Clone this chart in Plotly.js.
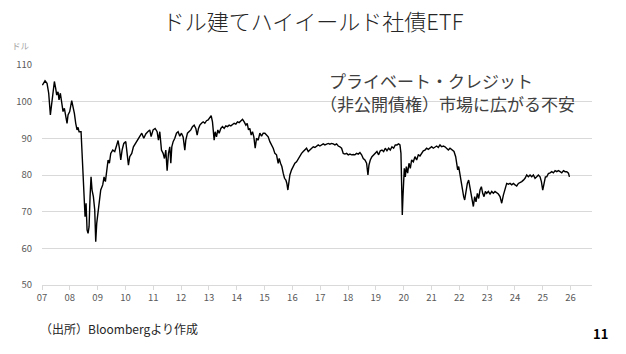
<!DOCTYPE html>
<html>
<head>
<meta charset="utf-8">
<script src="https://cdn.plot.ly/plotly-3.0.1.min.js"></script>
<style>
html,body{margin:0;padding:0;background:#fff;}
#chart{width:626px;height:354px;}
</style>
</head>
<body>
<div id="chart"></div>
<script>
// Time in decimal years (position) and ETF price (USD)
const timeYears = [
2007.283,2007.379,2007.451,2007.511,2007.571,2007.619,2007.667,2007.715,2007.762,2007.798,
2007.846,2007.882,2007.930,2007.978,2008.026,2008.074,2008.134,2008.170,2008.206,2008.266,
2008.338,2008.386,2008.434,2008.482,2008.530,2008.566,2008.602,2008.674,2008.710,2008.746,
2008.782,2008.818,2008.854,2008.890,2008.926,2008.962,2008.998,2009.033,2009.069,2009.117,
2009.165,2009.201,2009.237,2009.285,2009.333,2009.381,2009.453,2009.501,2009.549,2009.597,
2009.645,2009.693,2009.741,2009.813,2009.885,2009.957,2010.005,2010.053,2010.101,2010.149,
2010.209,2010.281,2010.329,2010.377,2010.424,2010.496,2010.556,2010.628,2010.712,2010.784,
2010.856,2010.928,2011.000,2011.072,2011.144,2011.192,2011.264,2011.336,2011.408,2011.456,
2011.504,2011.564,2011.624,2011.672,2011.720,2011.768,2011.816,2011.864,2011.900,2011.936,
2011.984,2012.044,2012.104,2012.163,2012.223,2012.283,2012.343,2012.403,2012.439,2012.499,
2012.559,2012.619,2012.679,2012.739,2012.799,2012.847,2012.895,2012.943,2013.003,2013.063,
2013.123,2013.183,2013.243,2013.303,2013.351,2013.398,2013.458,2013.494,2013.542,2013.590,
2013.638,2013.698,2013.758,2013.818,2013.878,2013.938,2013.998,2014.058,2014.118,2014.178,
2014.238,2014.298,2014.358,2014.418,2014.478,2014.538,2014.598,2014.646,2014.693,2014.741,
2014.789,2014.837,2014.885,2014.933,2014.981,2015.041,2015.101,2015.161,2015.221,2015.281,
2015.341,2015.401,2015.461,2015.521,2015.581,2015.641,2015.700,2015.760,2015.796,2015.844,
2015.892,2015.940,2015.988,2016.036,2016.072,2016.108,2016.144,2016.180,2016.240,2016.300,
2016.360,2016.420,2016.480,2016.540,2016.600,2016.660,2016.720,2016.780,2016.840,2016.900,
2016.960,2017.020,2017.080,2017.140,2017.200,2017.259,2017.319,2017.379,2017.439,2017.499,
2017.559,2017.619,2017.679,2017.739,2017.799,2017.859,2017.919,2017.979,2018.039,2018.099,
2018.159,2018.219,2018.279,2018.339,2018.399,2018.458,2018.518,2018.578,2018.638,2018.698,
2018.758,2018.818,2018.878,2018.938,2018.986,2019.022,2019.070,2019.130,2019.190,2019.250,
2019.310,2019.370,2019.430,2019.490,2019.550,2019.610,2019.670,2019.729,2019.789,2019.849,
2019.909,2019.969,2020.029,2020.089,2020.137,2020.173,2020.197,2020.221,2020.245,2020.269,
2020.293,2020.329,2020.365,2020.413,2020.461,2020.509,2020.557,2020.617,2020.677,2020.737,
2020.797,2020.857,2020.917,2020.976,2021.036,2021.096,2021.156,2021.216,2021.276,2021.336,
2021.396,2021.456,2021.516,2021.576,2021.636,2021.696,2021.756,2021.816,2021.876,2021.936,
2021.996,2022.080,2022.140,2022.176,2022.212,2022.248,2022.295,2022.343,2022.391,2022.427,
2022.463,2022.511,2022.559,2022.607,2022.655,2022.703,2022.751,2022.775,2022.823,2022.871,
2022.919,2022.967,2023.015,2023.063,2023.111,2023.159,2023.207,2023.255,2023.315,2023.375,
2023.435,2023.494,2023.554,2023.614,2023.674,2023.734,2023.794,2023.854,2023.914,2023.974,
2024.034,2024.094,2024.154,2024.214,2024.274,2024.334,2024.394,2024.454,2024.514,2024.574,
2024.633,2024.693,2024.753,2024.813,2024.873,2024.933,2024.993,2025.053,2025.113,2025.173,
2025.221,2025.269,2025.317,2025.365,2025.413,2025.473,2025.533,2025.593,2025.653,2025.713,
2025.773,2025.833,2025.893,2025.953,2026.013,2026.073,2026.133,2026.193,2026.229
];
const priceUSD = [
104.5,105.7,105.0,102.3,96.4,99.1,101.4,105.5,103.6,101.8,
102.7,100.5,102.3,99.6,97.3,98.2,95.5,94.1,96.4,97.3,
100.3,98.6,96.8,94.1,92.3,93.0,91.8,91.8,86.8,81.4,
73.2,68.6,72.3,65.0,64.1,65.9,74.1,79.5,75.9,74.1,
70.5,61.8,66.8,70.5,74.1,75.9,77.3,79.5,78.2,81.4,
84.1,83.2,85.9,86.8,86.4,88.2,89.4,87.3,84.1,86.8,
88.6,89.1,85.0,82.7,85.0,85.9,87.7,88.5,89.6,90.6,
91.4,90.0,91.2,91.8,92.3,90.5,92.3,92.7,91.8,89.5,
91.8,86.8,85.9,84.5,86.8,81.2,85.9,87.7,83.2,87.7,
89.1,90.0,91.4,91.8,90.6,91.4,90.4,86.8,89.5,91.4,
91.8,92.3,93.2,93.6,92.7,90.9,92.7,93.6,94.1,94.5,
94.1,94.8,95.0,95.5,96.2,94.5,89.5,91.8,90.4,92.3,
91.4,92.7,93.2,92.7,93.4,93.2,93.6,93.4,93.8,94.1,
93.9,94.5,94.3,94.8,95.2,94.5,93.6,94.1,92.3,92.7,
90.9,91.8,90.4,87.3,90.0,89.5,91.4,90.6,91.4,91.4,
90.9,90.4,89.1,88.2,87.3,85.9,85.5,83.2,84.5,83.2,
82.3,80.5,79.1,78.6,77.7,75.9,78.2,80.0,81.4,82.3,
83.2,83.6,84.5,85.0,85.9,86.4,86.8,87.3,86.4,86.8,
87.3,87.7,87.5,87.9,88.2,87.9,88.2,88.5,88.2,88.5,
88.6,88.4,88.6,88.5,88.2,88.5,87.9,87.7,87.3,85.9,
85.7,85.9,85.5,85.7,85.5,85.6,85.5,85.9,85.7,86.1,
85.5,84.5,84.1,83.2,80.0,82.7,84.1,85.0,85.5,85.9,
86.4,85.5,86.6,86.8,86.4,87.3,86.6,87.3,86.8,87.7,
87.3,88.2,88.2,88.5,88.2,85.9,78.6,69.1,74.1,78.6,
81.8,79.5,82.3,80.5,83.2,81.8,84.1,83.6,85.0,84.1,
85.5,85.2,85.9,86.6,86.8,87.3,87.0,87.5,87.7,87.3,
87.7,87.9,87.5,88.2,87.7,87.9,87.7,87.3,86.8,87.3,
86.8,86.4,85.0,83.2,81.4,82.3,80.0,78.6,76.4,74.1,
73.2,75.9,77.7,78.6,76.8,75.0,72.7,71.4,74.1,72.7,
75.0,73.6,75.9,76.8,75.0,74.1,75.5,75.0,75.5,74.8,
75.5,75.0,75.5,75.2,74.8,74.1,72.3,74.5,76.4,77.7,
77.5,77.7,77.3,77.7,77.3,77.0,77.7,77.9,78.2,78.6,
79.1,80.0,79.5,80.0,79.5,80.0,79.1,79.5,80.0,79.5,
78.2,75.9,78.2,79.5,79.5,80.4,80.6,80.9,80.6,81.2,
80.9,81.2,80.9,80.6,81.2,80.9,80.9,80.5,79.5
];
const xTickLabels = ['07','08','09','10','11','12','13','14','15','16','17','18','19','20','21','22','23','24','25','26'];
const yTickValues = [50,60,70,80,90,100,110];

const firstLabelPos = 2007.27; // axis label "07" sits at the series start
const xTickVals = xTickLabels.map((_, i) => firstLabelPos + i);

const jp = '"Noto Sans CJK JP", "Noto Sans", sans-serif';

const trace = {
  x: timeYears, y: priceUSD, type: 'scatter', mode: 'lines',
  line: {color: '#000000', width: 1.4}, hoverinfo: 'skip'
};

const layout = {
  width: 626, height: 354,
  margin: {l: 42, r: 34, t: 65, b: 69},
  paper_bgcolor: '#ffffff', plot_bgcolor: '#ffffff',
  showlegend: false,
  font: {family: jp, color: '#595959'},
  title: {
    text: 'ドル建てハイイールド社債ETF',
    font: {family: jp, size: 22, color: '#262626', weight: 300},
    x: 0.5, xanchor: 'center', y: 1 - 22/354, yref: 'container', yanchor: 'middle'
  },
  xaxis: {
    range: [2007.27, 2027.04],
    tickmode: 'array', tickvals: xTickVals, ticktext: xTickLabels,
    showgrid: false, zeroline: false,
    showline: true, linecolor: '#d9d9d9', linewidth: 1,
    ticks: 'outside', ticklen: 4, tickcolor: '#d9d9d9',
    tickfont: {size: 9.5, color: '#595959', family: jp}
  },
  yaxis: {
    range: [50, 110],
    tickmode: 'array', tickvals: yTickValues,
    showgrid: true, gridcolor: '#d9d9d9', gridwidth: 1,
    zeroline: false, showline: false, ticks: '',
    ticklabelstandoff: 9,
    tickfont: {size: 9.5, color: '#595959', family: jp}
  },
  annotations: [
    {text: 'ドル', xref: 'paper', yref: 'paper', x: (21-42)/550, y: (285-45)/220,
     xanchor: 'center', yanchor: 'middle', showarrow: false,
     font: {size: 8.5, color: '#a6a6a6', family: jp}},
    {text: 'プライベート・クレジット',
     xref: 'paper', yref: 'paper', x: (327-42)/550, y: (285-80)/220,
     xanchor: 'left', yanchor: 'middle', align: 'left', showarrow: false,
     font: {size: 17, color: '#404040', family: jp}},
    {text: '（非公開債権）市場に広がる不安',
     xref: 'paper', yref: 'paper', x: (318-42)/550, y: (285-103)/220,
     xanchor: 'left', yanchor: 'middle', align: 'left', showarrow: false,
     font: {size: 17, color: '#404040', family: jp}},
    {text: '（出所）Bloombergより作成', xref: 'paper', yref: 'paper',
     x: (38-42)/550, y: -(328-285)/220, xanchor: 'left', yanchor: 'middle',
     showarrow: false, font: {size: 12, color: '#262626', family: jp}},
    {text: '<b>11</b>', xref: 'paper', yref: 'paper',
     x: (610-42)/550, y: -(333-285)/220, xanchor: 'right', yanchor: 'middle',
     showarrow: false, font: {size: 13, color: '#000000', family: jp}}
  ]
};

Plotly.newPlot('chart', [trace], layout, {displayModeBar: false, staticPlot: true});
</script>
</body>
</html>
